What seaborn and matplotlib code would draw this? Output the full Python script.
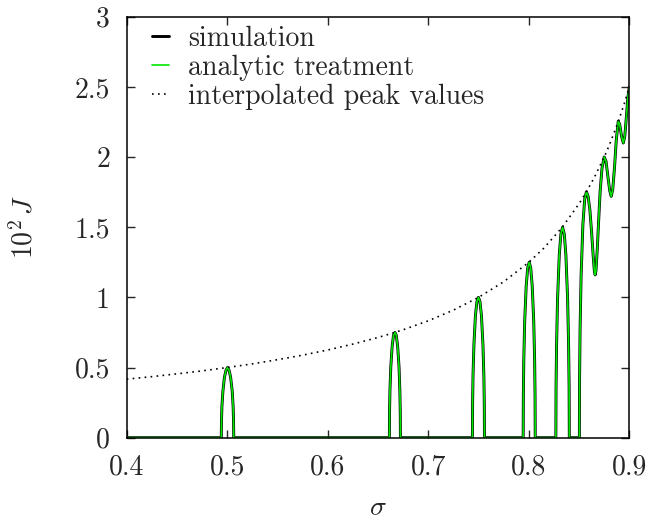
import numpy as np
import matplotlib
matplotlib.use("Agg")
import matplotlib.pyplot as plt
import seaborn as sns
from matplotlib.lines import Line2D

# ==========================================
# Data (sigma, 10^2 J)
# ==========================================
# flat zero stretches between the resonance peaks
zero_sigma = [0.40, 0.45]
# peak near sigma = 1/2
peak_a_sigma = [0.4941, 0.4943, 0.4947, 0.4957, 0.4972, 0.4988, 0.5003, 0.5019, 0.5034, 0.5050, 0.5059, 0.5063, 0.5065]
peak_a_J = [0.0, 0.12, 0.22, 0.33, 0.43, 0.48, 0.50, 0.48, 0.43, 0.33, 0.22, 0.12, 0.0]
gap_ab_sigma = [0.55, 0.60, 0.65]
# peak near sigma = 2/3
peak_b_sigma = [0.6613, 0.66147, 0.66185, 0.66268, 0.66405, 0.66543, 0.6668, 0.66817, 0.66955, 0.67093, 0.67175, 0.67214, 0.6723]
peak_b_J = [0.0, 0.18, 0.33, 0.50, 0.65, 0.73, 0.75, 0.73, 0.65, 0.50, 0.33, 0.18, 0.0]
gap_bc_sigma = [0.70, 0.72]
# peak near sigma = 3/4
peak_c_sigma = [0.7439, 0.74408, 0.7445, 0.7454, 0.7469, 0.7484, 0.7499, 0.7514, 0.7529, 0.7544, 0.7553, 0.75572, 0.7559]
peak_c_J = [0.0, 0.24, 0.44, 0.66, 0.87, 0.97, 1.00, 0.97, 0.87, 0.66, 0.44, 0.24, 0.0]
gap_cd_sigma = [0.775]
# peak near sigma = 4/5
peak_d_sigma = [0.7944, 0.79458, 0.7950, 0.7959, 0.7974, 0.7989, 0.8004, 0.8019, 0.8034, 0.8049, 0.8058, 0.80622, 0.8064]
peak_d_J = [0.0, 0.30, 0.55, 0.83, 1.08, 1.21, 1.25, 1.21, 1.08, 0.83, 0.55, 0.30, 0.0]
gap_de_sigma = [0.815]
# peak near sigma = 5/6
peak_e_sigma = [0.8269, 0.8271, 0.8276, 0.8286, 0.8303, 0.8319, 0.8336, 0.8353, 0.8369, 0.8386, 0.8396, 0.8401, 0.8403]
peak_e_J = [0.0, 0.36, 0.65, 0.99, 1.30, 1.45, 1.50, 1.45, 1.30, 0.99, 0.65, 0.36, 0.0]
gap_ef_sigma = [0.845]
# overlapping peaks from sigma = 6/7 up to 0.9
tail_sigma = [0.8503, 0.8505, 0.8510, 0.8520, 0.8538, 0.8556, 0.8573, 0.8590, 0.8608, 0.8625,
              0.8640, 0.8652, 0.8660, 0.8668, 0.8680, 0.8695, 0.8710, 0.8728, 0.8750, 0.8768,
              0.8785, 0.8805, 0.8820, 0.8835, 0.8852, 0.8870, 0.8890, 0.8905, 0.8922, 0.8940,
              0.8955, 0.8970, 0.8985, 0.9000]
tail_J = [0.0, 0.42, 0.77, 1.15, 1.52, 1.70, 1.752, 1.72, 1.62, 1.46,
          1.30, 1.19, 1.16, 1.19, 1.33, 1.55, 1.76, 1.92, 2.00, 1.97,
          1.87, 1.76, 1.72, 1.77, 1.92, 2.12, 2.256, 2.23, 2.15, 2.10,
          2.15, 2.28, 2.42, 2.50]

# dotted envelope through the peak maxima
env_sigma = [0.400, 0.425, 0.450, 0.475, 0.500, 0.525, 0.550, 0.575, 0.600, 0.625, 0.650, 0.6667,
             0.675, 0.700, 0.725, 0.750, 0.775, 0.800, 0.815, 0.8333, 0.850, 0.8571, 0.865,
             0.875, 0.880, 0.8889, 0.895, 0.900]
env_J = [0.417, 0.435, 0.455, 0.476, 0.500, 0.526, 0.556, 0.588, 0.625, 0.667, 0.714, 0.750,
         0.769, 0.833, 0.909, 1.000, 1.111, 1.250, 1.351, 1.500, 1.667, 1.750, 1.852,
         2.000, 2.083, 2.250, 2.381, 2.500]

sim_sigma = (zero_sigma + peak_a_sigma + gap_ab_sigma + peak_b_sigma + gap_bc_sigma + peak_c_sigma
             + gap_cd_sigma + peak_d_sigma + gap_de_sigma + peak_e_sigma + gap_ef_sigma + tail_sigma)
sim_J = ([0.0] * len(zero_sigma) + peak_a_J + [0.0] * len(gap_ab_sigma) + peak_b_J
         + [0.0] * len(gap_bc_sigma) + peak_c_J + [0.0] * len(gap_cd_sigma) + peak_d_J
         + [0.0] * len(gap_de_sigma) + peak_e_J + [0.0] * len(gap_ef_sigma) + tail_J)
# analytic result lies on top of the simulation
ana_sigma = list(sim_sigma)
ana_J = list(sim_J)

x_ticks = [0.4, 0.5, 0.6, 0.7, 0.8, 0.9]
x_ticklabels = ["0.4", "0.5", "0.6", "0.7", "0.8", "0.9"]
y_ticks = [0, 0.5, 1, 1.5, 2, 2.5, 3]
y_ticklabels = ["0", "0.5", "1", "1.5", "2", "2.5", "3"]

# ==========================================
# Style
# ==========================================
sns.set_style("ticks")
plt.rcParams["font.family"] = "serif"
plt.rcParams["font.serif"] = ["cmr10", "DejaVu Serif"]
plt.rcParams["mathtext.fontset"] = "cm"
plt.rcParams["axes.unicode_minus"] = False
plt.rcParams["axes.formatter.use_mathtext"] = True

fig = plt.figure(figsize=(6.49, 5.25), dpi=100)
ax = fig.add_axes([0.1952, 0.1663, 0.7745, 0.8019])

green = "#00e600"
sns.lineplot(x=sim_sigma, y=sim_J, ax=ax, color="black", linewidth=2.1,
             estimator=None, sort=False)
sns.lineplot(x=ana_sigma, y=ana_J, ax=ax, color=green, linewidth=1.2,
             estimator=None, sort=False)
sns.lineplot(x=env_sigma, y=env_J, ax=ax, color="black", linewidth=1.2,
             linestyle=(0, (1, 2.6)), estimator=None, sort=False)

ax.set_xlim(0.4, 0.9)
ax.set_ylim(0, 3)
ax.set_xticks(x_ticks)
ax.set_xticklabels(x_ticklabels)
ax.set_yticks(y_ticks)
ax.set_yticklabels(y_ticklabels)
ax.tick_params(direction="in", length=6, width=1, top=True, right=True,
               labelsize=20, pad=12)
for sp in ax.spines.values():
    sp.set_linewidth(1.1)
    sp.set_color("black")

ax.set_xlabel(r"$\sigma$", fontsize=20)
ax.set_ylabel(r"$10^2\,J$", fontsize=20)
ax.xaxis.set_label_coords(0.5, -0.135)
ax.yaxis.set_label_coords(-0.175, 0.5)

handles = [
    Line2D([], [], color="black", linewidth=2.1),
    Line2D([], [], color=green, linewidth=1.2),
    Line2D([], [], color="black", linewidth=1.2, linestyle=(0, (1, 2.6))),
]
labels = ["simulation", "analytic treatment", "interpolated peak values"]
ax.legend(handles, labels, loc="upper left", bbox_to_anchor=(0.045, 0.985),
          frameon=False, fontsize=20, handlelength=0.6, handletextpad=0.7,
          labelspacing=0.09, borderpad=0.1, borderaxespad=0.0)

fig.savefig("out.png", dpi=100)
